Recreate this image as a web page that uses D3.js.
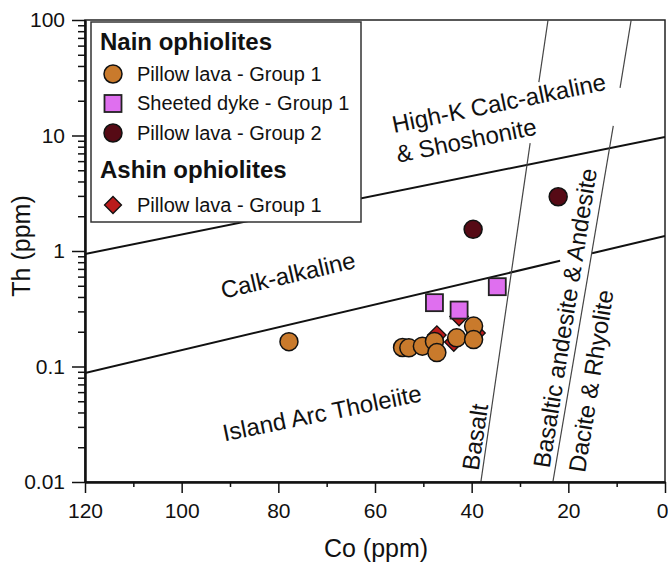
<!DOCTYPE html>
<html>
<head>
<meta charset="utf-8">
<script src="https://cdn.jsdelivr.net/npm/d3@7"></script>
<style>
  html, body { margin: 0; padding: 0; background: #fff; }
  svg { display: block; font-family: "Liberation Sans", Arial, Helvetica, sans-serif; }
</style>
</head>
<body>
<svg id="chart" width="668" height="566"></svg>
<script>
// Th vs Co discrimination diagram (values in ppm)
const coTicks = [120, 100, 80, 60, 40, 20, 0];
const coMinor = [110, 90, 70, 50, 30, 10];
const thTicks = [0.01, 0.1, 1, 10, 100];

// Samples: [Co, Th]
const nainPillowG1 = [[77.8, 0.164], [54.3, 0.146], [53.0, 0.145], [50.2, 0.150], [47.7, 0.165],
                      [47.2, 0.132], [43.1, 0.177], [39.6, 0.224], [39.6, 0.171]];
const nainDykeG1 = [[47.7, 0.357], [42.6, 0.308], [34.7, 0.491]];
const nainPillowG2 = [[39.7, 1.54], [22.1, 2.95]];
const ashinPillowG1 = [[47.2, 0.187], [42.6, 0.271], [43.7, 0.163], [39.1, 0.195]];

// Field boundaries, split where a field name sits on top of them
const lineHighK = [[[120, 0.94], [0, 9.7]]];
const lineIAT = [[[120, 0.088], [21.7, 0.822]], [[15.1, 0.957], [0, 1.35]]];
const lineBasalt = [[[24.2, 100], [26.1, 29.0]], [[27.9, 8.6], [38.1, 0.01]]];
const lineAndesite = [[[7.0, 100], [9.3, 25.8]], [[10.7, 12.1], [23.2, 0.01]]];

const colors = { orange: "#C97A2C", violet: "#DF6FEF", maroon: "#560A15", red: "#BB1B1B" };

const svg = d3.select("#chart");
const plotL = 85, plotR = 665, plotT = 20, plotB = 482;

const x = d3.scaleLinear().domain([120, 0]).range([plotL, plotR]);
const y = d3.scaleLog().domain([0.01, 100]).range([plotB, plotT]);

const thMinor = [];
for (const base of [0.01, 0.1, 1, 10]) for (let k = 2; k <= 9; k++) thMinor.push(+(base * k).toPrecision(3));

svg.append("defs").append("clipPath").attr("id", "plot")
  .append("rect").attr("x", plotL).attr("y", plotT).attr("width", plotR - plotL).attr("height", plotB - plotT);

// frame
svg.append("rect").attr("x", plotL).attr("y", plotT).attr("width", plotR - plotL).attr("height", plotB - plotT)
  .attr("fill", "none").attr("stroke", "#222").attr("stroke-width", 1.5);

const line = d3.line().x(d => x(d[0])).y(d => y(d[1]));
const gLines = svg.append("g").attr("clip-path", "url(#plot)");
gLines.selectAll("path.major").data([...lineHighK, ...lineIAT]).join("path")
  .attr("class", "major").attr("d", line).attr("fill", "none").attr("stroke", "#111").attr("stroke-width", 2);
gLines.selectAll("path.minor").data([...lineBasalt, ...lineAndesite]).join("path")
  .attr("class", "minor").attr("d", line).attr("fill", "none").attr("stroke", "#444").attr("stroke-width", 1.2);

// field names
const fieldFont = 24;
function label(txt, cx, cy, angle) {
  svg.append("text").attr("transform", `translate(${cx},${cy}) rotate(${angle})`)
    .attr("text-anchor", "middle").attr("dy", "0.35em")
    .attr("font-size", fieldFont).attr("fill", "#111").text(txt);
}
const hk = svg.append("g").attr("transform", "translate(394,133) rotate(-11.5)")
  .attr("font-size", fieldFont).attr("fill", "#111");
hk.append("text").attr("x", 0).attr("y", 0).text("High-K Calc-alkaline");
hk.append("text").attr("x", -2).attr("y", 30).text("& Shoshonite");
label("Calk-alkaline", 288, 275, -13);
label("Island Arc Tholeiite", 322, 413, -11.5);
label("Basalt", 475, 437, -81.7);
label("Basaltic andesite & Andesite", 565, 318, -81);
label("Dacite & Rhyolite", 591, 381, -81);

// markers
const gPts = svg.append("g");
const diamond = d3.symbol().type(d3.symbolSquare).size(170);
gPts.selectAll("path.ashin").data(ashinPillowG1).join("path").attr("class", "ashin")
  .attr("d", diamond).attr("transform", d => `translate(${x(d[0])},${y(d[1])}) rotate(45)`)
  .attr("fill", colors.red).attr("stroke", "#111").attr("stroke-width", 1.3);
gPts.selectAll("circle.g1").data(nainPillowG1).join("circle").attr("class", "g1")
  .attr("cx", d => x(d[0])).attr("cy", d => y(d[1])).attr("r", 9)
  .attr("fill", colors.orange).attr("stroke", "#111").attr("stroke-width", 1.5);
gPts.selectAll("rect.dyke").data(nainDykeG1).join("rect").attr("class", "dyke")
  .attr("x", d => x(d[0]) - 8.5).attr("y", d => y(d[1]) - 8.5).attr("width", 17).attr("height", 17)
  .attr("fill", colors.violet).attr("stroke", "#222").attr("stroke-width", 1.8);
gPts.selectAll("circle.g2").data(nainPillowG2).join("circle").attr("class", "g2")
  .attr("cx", d => x(d[0])).attr("cy", d => y(d[1])).attr("r", 9)
  .attr("fill", colors.maroon).attr("stroke", "#111").attr("stroke-width", 1.5);

// legend
const lg = svg.append("g");
lg.append("rect").attr("x", 91).attr("y", 22).attr("width", 270).attr("height", 200)
  .attr("fill", "#fff").attr("stroke", "#333").attr("stroke-width", 1.5);
lg.append("text").attr("x", 100).attr("y", 50).attr("font-size", 24).attr("font-weight", "bold").attr("fill", "#111").text("Nain ophiolites");
lg.append("text").attr("x", 100).attr("y", 178).attr("font-size", 24).attr("font-weight", "bold").attr("fill", "#111").text("Ashin ophiolites");
const items = [
  { t: "Pillow lava - Group 1", b: 80.5, m: "circle", c: colors.orange },
  { t: "Sheeted dyke - Group 1", b: 110, m: "square", c: colors.violet },
  { t: "Pillow lava - Group 2", b: 139.5, m: "circle", c: colors.maroon },
  { t: "Pillow lava - Group 1", b: 211.5, m: "diamond", c: colors.red }
];
items.forEach(it => {
  const cy = it.b - 6.5;
  if (it.m === "circle") lg.append("circle").attr("cx", 113).attr("cy", cy).attr("r", 9)
    .attr("fill", it.c).attr("stroke", "#111").attr("stroke-width", 1.5);
  if (it.m === "square") lg.append("rect").attr("x", 104.5).attr("y", cy - 8.5).attr("width", 17).attr("height", 17)
    .attr("fill", it.c).attr("stroke", "#222").attr("stroke-width", 1.8);
  if (it.m === "diamond") lg.append("path").attr("d", d3.symbol().type(d3.symbolSquare).size(144))
    .attr("transform", `translate(113,${cy}) rotate(45)`).attr("fill", it.c).attr("stroke", "#111").attr("stroke-width", 1.3);
  lg.append("text").attr("x", 137).attr("y", it.b).attr("font-size", 20).attr("fill", "#111").text(it.t);
});

// axes
const xMajor = svg.append("g").attr("transform", `translate(0,${plotB})`)
  .call(d3.axisBottom(x).tickValues(coTicks).tickSize(11).tickSizeOuter(0).tickPadding(10));
// keep the last label inside the page
xMajor.selectAll(".tick").filter(d => d === 0).select("text").attr("dx", -3);
svg.append("g").attr("transform", `translate(0,${plotB})`)
  .call(d3.axisBottom(x).tickValues(coMinor).tickSize(5).tickSizeOuter(0).tickFormat(""));
svg.append("g").attr("transform", `translate(${plotL},0)`)
  .call(d3.axisLeft(y).tickValues(thTicks).tickSize(13).tickSizeOuter(0).tickPadding(7).tickFormat(d => String(d)));
svg.append("g").attr("transform", `translate(${plotL},0)`)
  .call(d3.axisLeft(y).tickValues(thMinor).tickSize(7).tickSizeOuter(0).tickFormat(""));
svg.selectAll(".domain").attr("stroke", "#111").attr("stroke-width", 2);
svg.selectAll(".tick line").attr("stroke", "#111").attr("stroke-width", 1.5);
svg.selectAll(".tick text").attr("font-size", 21).attr("fill", "#111")
  .attr("font-family", "'Liberation Sans', Arial, sans-serif");

svg.append("text").attr("x", 376).attr("y", 557).attr("text-anchor", "middle")
  .attr("font-size", 25).attr("fill", "#111").text("Co (ppm)");
svg.append("text").attr("transform", "translate(30,246) rotate(-90)").attr("text-anchor", "middle")
  .attr("font-size", 25).attr("fill", "#111").text("Th (ppm)");
</script>
</body>
</html>
